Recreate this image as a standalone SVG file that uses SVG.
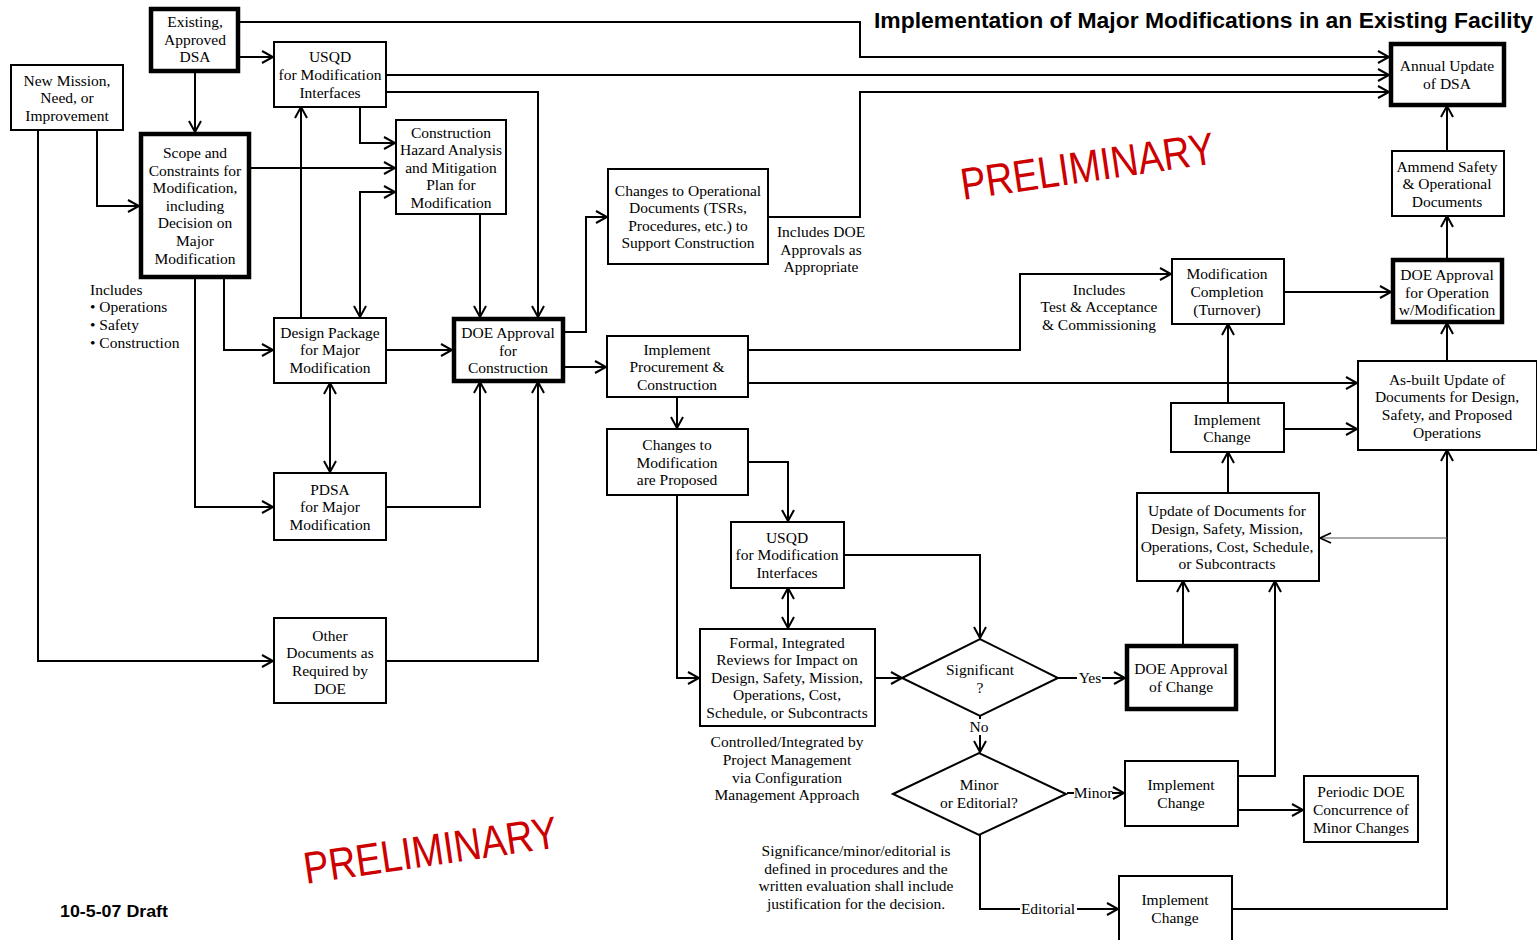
<svg xmlns="http://www.w3.org/2000/svg" width="1537" height="940" viewBox="0 0 1537 940">
<style>
.b{fill:#fff;stroke:#000;stroke-width:2}
.k{fill:#fff;stroke:#000;stroke-width:4.5}
.t{font-family:"Liberation Serif","Times New Roman",serif;font-size:15.5px;fill:#000;text-anchor:middle}
.l{font-family:"Liberation Serif","Times New Roman",serif;font-size:15.5px;fill:#000}
.c{fill:none;stroke:#000;stroke-width:2;marker-end:url(#ah)}
.n{fill:none;stroke:#000;stroke-width:2}
.d{fill:none;stroke:#000;stroke-width:2;marker-end:url(#ah);marker-start:url(#ah)}
.th{fill:none;stroke:#555;stroke-width:1;marker-end:url(#ah2)}
.p{font-family:"Liberation Sans",Arial,sans-serif;font-size:45px;fill:#cc0000}
</style>
<defs>
<marker id="ah" viewBox="-12 -8 14 16" refX="0" refY="0" markerWidth="14" markerHeight="16" markerUnits="userSpaceOnUse" orient="auto-start-reverse"><path d="M-11,-6 L0,0 L-11,6" fill="none" stroke="#000" stroke-width="2"/></marker>
<marker id="ah2" viewBox="-12 -8 14 16" refX="0" refY="0" markerWidth="14" markerHeight="16" markerUnits="userSpaceOnUse" orient="auto"><path d="M-11,-5 L0,0 L-11,5" fill="none" stroke="#000" stroke-width="1.8"/></marker>
</defs>
<rect width="1537" height="940" fill="#fff"/>
<text x="874" y="28" font-family="Liberation Sans,Arial,sans-serif" font-weight="bold" font-size="22" textLength="659" lengthAdjust="spacingAndGlyphs">Implementation of Major Modifications in an Existing Facility</text>
<text x="60" y="917" font-family="Liberation Sans,Arial,sans-serif" font-weight="bold" font-size="16" textLength="108" lengthAdjust="spacingAndGlyphs">10-5-07 Draft</text>
<text class="p" x="963" y="200" transform="rotate(-8.3 963 200)" textLength="256" lengthAdjust="spacingAndGlyphs">PRELIMINARY</text>
<text class="p" x="306" y="884" transform="rotate(-8.3 306 884)" textLength="256" lengthAdjust="spacingAndGlyphs">PRELIMINARY</text>

<g id="connectors">
<path class="c" d="M239,22 H860 V57 H1389"/>
<path class="c" d="M387,75 H1389"/>
<path class="c" d="M768,217 H860 V92 H1389"/>
<path class="c" d="M387,92 H538 V317"/>
<path class="c" d="M239,57 H273"/>
<path class="c" d="M195,72 V132"/>
<path class="c" d="M97,130 V206 H139"/>
<path class="c" d="M38,130 V661 H273"/>
<path class="c" d="M250,168 H395"/>
<path class="c" d="M360,107 V143 H395"/>
<path class="c" d="M301,317 V107"/>
<path class="d" d="M395,192 H360 V317"/>
<path class="c" d="M224,278 V350 H273"/>
<path class="c" d="M195,278 V507 H273"/>
<path class="d" d="M330,383 V472"/>
<path class="c" d="M387,350 H452"/>
<path class="c" d="M480,214 V317"/>
<path class="c" d="M387,507 H480 V382"/>
<path class="c" d="M387,661 H538 V382"/>
<path class="c" d="M565,332 H586 V217 H607"/>
<path class="c" d="M565,367 H606"/>
<path class="c" d="M748,350 H1020 V274 H1171"/>
<path class="c" d="M748,383 H1357"/>
<path class="c" d="M677,397 V428"/>
<path class="c" d="M748,462 H788 V521"/>
<path class="c" d="M677,495 V678 H699"/>
<path class="d" d="M788,588 V628"/>
<path class="c" d="M844,555 H980 V638"/>
<path class="c" d="M875,678 H902"/>
<path class="n" d="M1058,678 H1077"/>
<path class="c" d="M1102,678 H1125"/>
<path class="n" d="M980,716 V719"/>
<path class="c" d="M980,735 V752"/>
<path class="n" d="M1067,793 H1074"/>
<path class="c" d="M1112,793 H1124"/>
<path class="n" d="M980,835 V909 H1020"/>
<path class="c" d="M1077,909 H1118"/>
<path class="c" d="M1183,644 V581"/>
<path class="c" d="M1238,776 H1275 V581"/>
<path class="c" d="M1238,810 H1303"/>
<path class="c" d="M1232,909 H1447 V450"/>
<path class="th" d="M1447,538 H1320"/>
<path class="c" d="M1228,492 V452"/>
<path class="c" d="M1228,402 V324"/>
<path class="c" d="M1284,429 H1357"/>
<path class="c" d="M1284,292 H1391"/>
<path class="c" d="M1447,360 V323"/>
<path class="c" d="M1447,258 V216"/>
<path class="c" d="M1447,150 V106"/>
</g>

<g id="labels">
<text class="l" x="90" y="295">Includes</text>
<text class="l" x="90" y="312">• Operations</text>
<text class="l" x="90" y="330">• Safety</text>
<text class="l" x="90" y="348">• Construction</text>
<text class="t" x="821" y="237">Includes DOE</text>
<text class="t" x="821" y="255">Approvals as</text>
<text class="t" x="821" y="272">Appropriate</text>
<text class="t" x="1099" y="295">Includes</text>
<text class="t" x="1099" y="312">Test &amp; Acceptance</text>
<text class="t" x="1099" y="330">&amp; Commissioning</text>
<text class="t" x="787" y="747">Controlled/Integrated by</text>
<text class="t" x="787" y="765">Project Management</text>
<text class="t" x="787" y="783">via Configuration</text>
<text class="t" x="787" y="800">Management Approach</text>
<text class="t" x="856" y="856">Significance/minor/editorial is</text>
<text class="t" x="856" y="874">defined in procedures and the</text>
<text class="t" x="856" y="891">written evaluation shall include</text>
<text class="t" x="856" y="909">justification for the decision.</text>
<text class="t" x="1090" y="683">Yes</text>
<text class="t" x="979" y="732">No</text>
<text class="t" x="1093" y="798">Minor</text>
<text class="t" x="1048" y="914">Editorial</text>
</g>

<g id="n1"><rect class="k" x="151" y="9" width="87" height="62"/><text class="t" x="195"><tspan x="195" y="27">Existing,</tspan><tspan x="195" y="45">Approved</tspan><tspan x="195" y="62">DSA</tspan></text></g>
<g id="n2"><rect class="b" x="11" y="65" width="112" height="65"/><text class="t"><tspan x="67" y="86">New Mission,</tspan><tspan x="67" y="103">Need, or</tspan><tspan x="67" y="121">Improvement</tspan></text></g>
<g id="n3"><rect class="b" x="274" y="42" width="112" height="65"/><text class="t"><tspan x="330" y="62">USQD</tspan><tspan x="330" y="80">for Modification</tspan><tspan x="330" y="98">Interfaces</tspan></text></g>
<g id="n4"><rect class="k" x="141" y="134" width="108" height="143"/><text class="t"><tspan x="195" y="158">Scope and</tspan><tspan x="195" y="176">Constraints for</tspan><tspan x="195" y="193">Modification,</tspan><tspan x="195" y="211">including</tspan><tspan x="195" y="228">Decision on</tspan><tspan x="195" y="246">Major</tspan><tspan x="195" y="264">Modification</tspan></text></g>
<g id="n5"><rect class="b" x="396" y="120" width="110" height="94"/><text class="t"><tspan x="451" y="138">Construction</tspan><tspan x="451" y="155">Hazard Analysis</tspan><tspan x="451" y="173">and Mitigation</tspan><tspan x="451" y="190">Plan for</tspan><tspan x="451" y="208">Modification</tspan></text></g>
<g id="n6"><rect class="b" x="274" y="318" width="112" height="65"/><text class="t"><tspan x="330" y="338">Design Package</tspan><tspan x="330" y="355">for Major</tspan><tspan x="330" y="373">Modification</tspan></text></g>
<g id="n7"><rect class="k" x="454" y="319" width="109" height="62"/><text class="t"><tspan x="508" y="338">DOE Approval</tspan><tspan x="508" y="356">for</tspan><tspan x="508" y="373">Construction</tspan></text></g>
<g id="n8"><rect class="b" x="274" y="473" width="112" height="67"/><text class="t"><tspan x="330" y="495">PDSA</tspan><tspan x="330" y="512">for Major</tspan><tspan x="330" y="530">Modification</tspan></text></g>
<g id="n9"><rect class="b" x="274" y="618" width="112" height="85"/><text class="t"><tspan x="330" y="641">Other</tspan><tspan x="330" y="658">Documents as</tspan><tspan x="330" y="676">Required by</tspan><tspan x="330" y="694">DOE</tspan></text></g>
<g id="n10"><rect class="b" x="608" y="169" width="160" height="95"/><text class="t"><tspan x="688" y="196">Changes to Operational</tspan><tspan x="688" y="213">Documents (TSRs,</tspan><tspan x="688" y="231">Procedures, etc.) to</tspan><tspan x="688" y="248">Support Construction</tspan></text></g>
<g id="n11"><rect class="b" x="607" y="336" width="141" height="61"/><text class="t"><tspan x="677" y="355">Implement</tspan><tspan x="677" y="372">Procurement &amp;</tspan><tspan x="677" y="390">Construction</tspan></text></g>
<g id="n12"><rect class="b" x="607" y="429" width="141" height="66"/><text class="t"><tspan x="677" y="450">Changes to</tspan><tspan x="677" y="468">Modification</tspan><tspan x="677" y="485">are Proposed</tspan></text></g>
<g id="n13"><rect class="b" x="731" y="522" width="113" height="66"/><text class="t"><tspan x="787" y="543">USQD</tspan><tspan x="787" y="560">for Modification</tspan><tspan x="787" y="578">Interfaces</tspan></text></g>
<g id="n14"><rect class="b" x="700" y="629" width="175" height="97"/><text class="t"><tspan x="787" y="648">Formal, Integrated</tspan><tspan x="787" y="665">Reviews for Impact on</tspan><tspan x="787" y="683">Design, Safety, Mission,</tspan><tspan x="787" y="700">Operations, Cost,</tspan><tspan x="787" y="718">Schedule, or Subcontracts</tspan></text></g>
<g id="n15"><polygon class="b" points="902,678 980,639 1058,678 980,716"/><text class="t"><tspan x="980" y="675">Significant</tspan><tspan x="980" y="693">?</tspan></text></g>
<g id="n16"><polygon class="b" points="893,794 979,753 1066,794 979,835"/><text class="t"><tspan x="979" y="790">Minor</tspan><tspan x="979" y="808">or Editorial?</tspan></text></g>
<g id="n17"><rect class="k" x="1127" y="646" width="109" height="63"/><text class="t"><tspan x="1181" y="674">DOE Approval</tspan><tspan x="1181" y="692">of Change</tspan></text></g>
<g id="n18"><rect class="b" x="1125" y="761" width="113" height="65"/><text class="t"><tspan x="1181" y="790">Implement</tspan><tspan x="1181" y="808">Change</tspan></text></g>
<g id="n19"><rect class="b" x="1304" y="776" width="114" height="66"/><text class="t"><tspan x="1361" y="797">Periodic DOE</tspan><tspan x="1361" y="815">Concurrence of</tspan><tspan x="1361" y="833">Minor Changes</tspan></text></g>
<g id="n20"><rect class="b" x="1119" y="876" width="113" height="72"/><text class="t"><tspan x="1175" y="905">Implement</tspan><tspan x="1175" y="923">Change</tspan></text></g>
<g id="n21"><rect class="b" x="1137" y="493" width="182" height="88"/><text class="t"><tspan x="1227" y="516">Update of Documents for</tspan><tspan x="1227" y="534">Design, Safety, Mission,</tspan><tspan x="1227" y="552">Operations, Cost, Schedule,</tspan><tspan x="1227" y="569">or Subcontracts</tspan></text></g>
<g id="n22"><rect class="b" x="1171" y="403" width="113" height="49"/><text class="t"><tspan x="1227" y="425">Implement</tspan><tspan x="1227" y="442">Change</tspan></text></g>
<g id="n23"><rect class="b" x="1172" y="259" width="112" height="65"/><text class="t"><tspan x="1227" y="279">Modification</tspan><tspan x="1227" y="297">Completion</tspan><tspan x="1227" y="315">(Turnover)</tspan></text></g>
<g id="n24"><rect class="b" x="1358" y="361" width="179" height="89"/><text class="t"><tspan x="1447" y="385">As-built Update of</tspan><tspan x="1447" y="402">Documents for Design,</tspan><tspan x="1447" y="420">Safety, and Proposed</tspan><tspan x="1447" y="438">Operations</tspan></text></g>
<g id="n25"><rect class="k" x="1393" y="260" width="109" height="62"/><text class="t"><tspan x="1447" y="280">DOE Approval</tspan><tspan x="1447" y="298">for Operation</tspan><tspan x="1447" y="315">w/Modification</tspan></text></g>
<g id="n26"><rect class="b" x="1392" y="151" width="112" height="65"/><text class="t"><tspan x="1447" y="172">Ammend Safety</tspan><tspan x="1447" y="189">&amp; Operational</tspan><tspan x="1447" y="207">Documents</tspan></text></g>
<g id="n27"><rect class="k" x="1391" y="44" width="113" height="61"/><text class="t"><tspan x="1447" y="71">Annual Update</tspan><tspan x="1447" y="89">of DSA</tspan></text></g>
</svg>
